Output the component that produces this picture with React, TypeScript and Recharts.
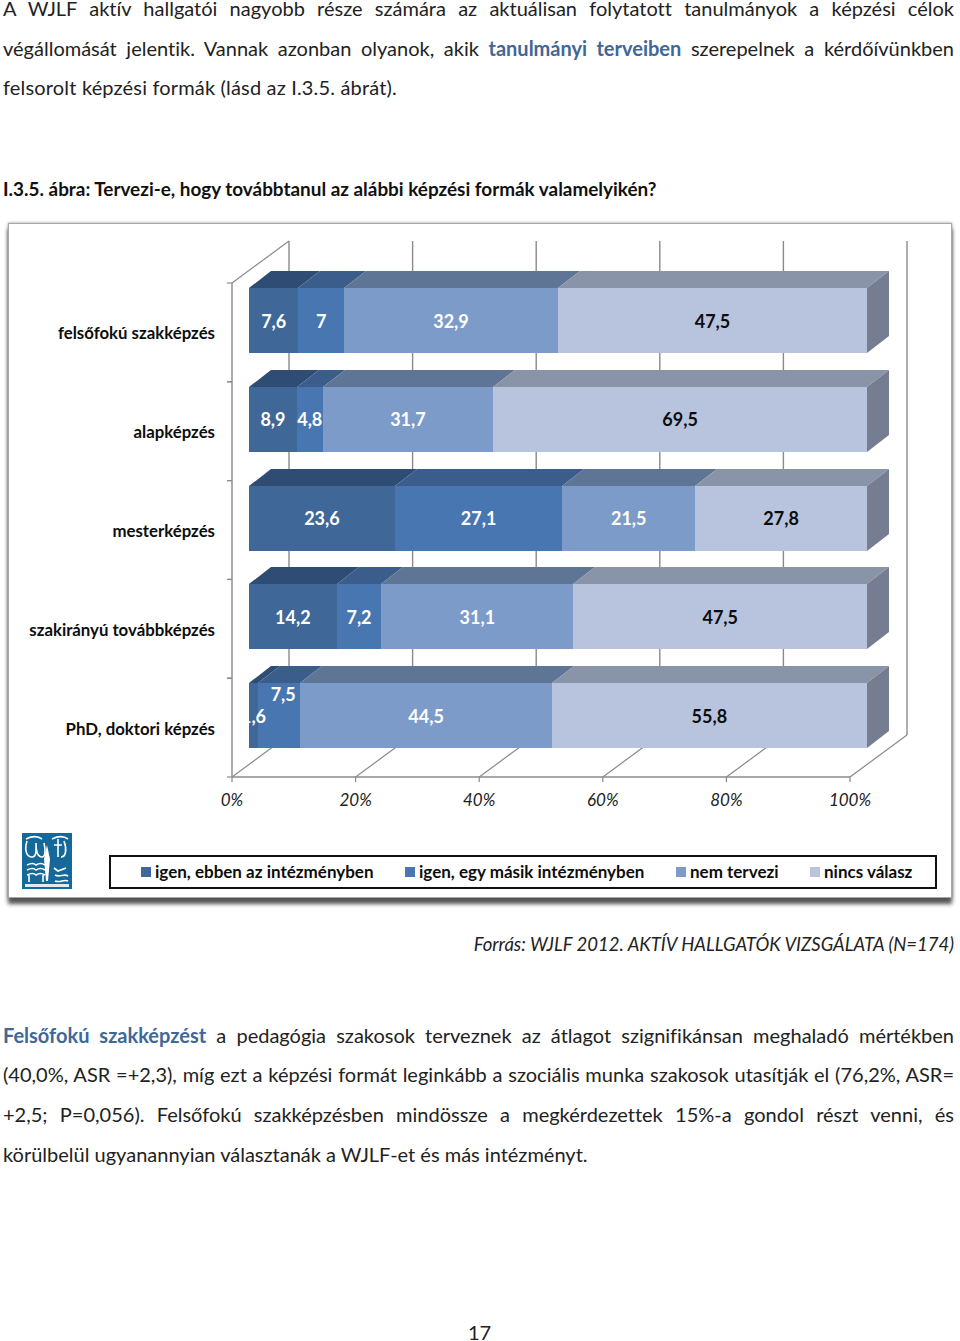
import { BarChart, Bar, XAxis, YAxis, Legend, LabelList, CartesianGrid } from "recharts";

const categories = ["felsőfokú szakképzés", "alapképzés", "mesterképzés", "szakirányú továbbképzés", "PhD, doktori képzés"];
const ebben = [7.6, 8.9, 23.6, 14.2, 1.6];
const masik = [7, 4.8, 27.1, 7.2, 7.5];
const nemTervezi = [32.9, 31.7, 21.5, 31.1, 44.5];
const nincsValasz = [47.5, 69.5, 27.8, 47.5, 55.8];
const xTicks = [0, 0.2, 0.4, 0.6, 0.8, 1];

const data = categories.map((name, i) => ({
  name,
  ebben: ebben[i],
  masik: masik[i],
  nemTervezi: nemTervezi[i],
  nincsValasz: nincsValasz[i],
}));

const FONT = "Lato, Carlito, sans-serif";
const GRID = "#8a8a8a";

// the bars float in front of the wall in the original 3d chart
const BAR_DX = 17;
const BAR_DY = -12;
const DEPTH_X = 22;
const DEPTH_Y = 17;
const WALL_DX = 57;
const WALL_DY = 42;
const BAND = 98.8;

const Bar3D = ({ x, y, width, height, fill, topFill, sideFill }: any) => {
  const l = Math.round(x + BAR_DX);
  const t = Math.round(y + BAR_DY);
  const r = Math.round(x + BAR_DX + width);
  const b = t + height;
  return (
    <g>
      <polygon points={`${l},${t} ${r},${t} ${r + DEPTH_X},${t - DEPTH_Y} ${l + DEPTH_X},${t - DEPTH_Y}`} fill={topFill} />
      {sideFill && (
        <polygon points={`${r},${t} ${r + DEPTH_X},${t - DEPTH_Y} ${r + DEPTH_X},${b - DEPTH_Y} ${r},${b}`} fill={sideFill} />
      )}
      <rect x={l} y={t} width={r - l} height={height} fill={fill} />
    </g>
  );
};

// floor diagonal + back wall line, sits under the bars
const WallLine = ({ x1, y1, y2, index }: any) => (
  <g key={index}>
    <line x1={x1} y1={y2} x2={x1 + WALL_DX} y2={y2 - WALL_DY} stroke={GRID} strokeWidth={1.2} />
    <line x1={x1 + WALL_DX} x2={x1 + WALL_DX} y1={y2 - WALL_DY} y2={y1 - WALL_DY} stroke={GRID} strokeWidth={1.4} />
    {index === 0 && <line x1={x1} y1={y1} x2={x1 + WALL_DX} y2={y1 - WALL_DY} stroke={GRID} strokeWidth={1.2} />}
  </g>
);

const XTick = ({ x, y, payload }: any) => (
  <g>
    <line x1={x} x2={x} y1={y} y2={y + 5} stroke={GRID} strokeWidth={1.2} />
    <text x={x} y={y + 29} textAnchor="middle" fontFamily={FONT} fontStyle="italic" fontSize={17} fill="#222">
      {Math.round(payload.value * 100) + "%"}
    </text>
  </g>
);

const YTick = ({ x, y, payload }: any) => (
  <g>
    <line x1={x - 5} x2={x} y1={y - BAND / 2} y2={y - BAND / 2} stroke={GRID} strokeWidth={1.2} />
    <line x1={x - 5} x2={x} y1={y + BAND / 2} y2={y + BAND / 2} stroke={GRID} strokeWidth={1.2} />
    <text x={x - 17} y={y + 7} textAnchor="end" fontFamily={FONT} fontWeight={700} fontSize={16.8} fill="#0d0d0d">
      {payload.value}
    </text>
  </g>
);

const barLabel = (color: string) => ({ x, y, width, height, value }: any) => {
  // the 7,5 label was dragged upwards by hand in the original
  const lift = value === 7.5 ? -22 : 0;
  const shift = value === 7.5 ? 4 : 0;
  return (
    <text
      x={x + BAR_DX + width / 2 + shift}
      y={y + BAR_DY + height / 2 + 7 + lift}
      textAnchor="middle"
      fontFamily={FONT}
      fontWeight={700}
      fontSize={18}
      fill={color}
    >
      {String(value).replace(".", ",")}
    </text>
  );
};

const LegendBox = ({ payload }: any) => (
  <div style={{ position: "relative", boxSizing: "border-box", width: 828, height: 34, border: "2px solid #111", background: "#fff", fontFamily: FONT, fontWeight: 700, fontSize: 17, color: "#0d0d0d" }}>
    {(payload || []).map((p: any, i: number) => (
      <div key={p.value} style={{ position: "absolute", left: [30, 294, 565, 699][i], top: 0, height: 29, display: "flex", alignItems: "center", whiteSpace: "nowrap" }}>
        <span style={{ display: "inline-block", width: 10, height: 10, background: p.color, marginRight: 4 }} />
        {p.value}
      </div>
    ))}
  </div>
);

const Logo = () => (
  <svg width={50} height={56} viewBox="0 0 50 56" style={{ position: "absolute", left: 22, top: 833 }}>
    <rect width={50} height={56} fill="#15689a" />
    <g fill="none" stroke="#fff" strokeWidth={1.6}>
      <path d="M5 8c-3 10 0 16 5 16s4-8 4-14M14 10c0 8 1 14 6 14 3 0 4-6 2-14" />
      <path d="M4 6c6-3 12-3 16 0M30 6c6-3 12-3 16 0M42 8c3 8 2 16-3 16M36 6v18M32 12h8" />
      <path d="M5 32c4-2 7-2 9 0 3-2 6-2 9 0M5 37c4-2 7-2 9 0 3-2 6-2 9 0M5 42c4-2 7-2 9 0 3-2 6-2 9 0M7 42v7M21 42v7" />
      <path d="M32 35l4 3 8-3M33 42c5 3 9-2 13 1M33 48c5 2 9-2 13 0" />
    </g>
    <path d="M25 12l3 14-2 22-2 0-2-22z" fill="#fff" />
    <rect x={3} y={51} width={44} height={3} fill="#dfeaf2" />
  </svg>
);

const Line = ({ top, children, justify = true, spacing = 0 }: any) => (
  <div style={{ position: "absolute", left: 3, top, width: 951, height: 18, lineHeight: "18px", whiteSpace: "nowrap", letterSpacing: spacing, textAlign: justify ? "justify" : "left", textAlignLast: justify ? "justify" : "left", whiteSpaceCollapse: "preserve" as any }}>
    {children}
  </div>
);

const Hl = ({ children }: any) => <b style={{ color: "#3f6797", fontSize: 20 }}>{children}</b>;

export default function App() {
  return (
    <div style={{ position: "absolute", left: 0, top: 0, width: 960, height: 1341, background: "#fff", fontFamily: FONT, fontSize: 20, color: "#222", overflow: "hidden", fontVariantLigatures: "none" }}>
      <Line top={-1}>A WJLF aktív hallgatói nagyobb része számára az aktuálisan folytatott tanulmányok a képzési célok</Line>
      <Line top={39}>végállomását jelentik. Vannak azonban olyanok, akik <Hl>tanulmányi terveiben</Hl> szerepelnek a kérdőívünkben</Line>
      <Line top={78} justify={false} spacing={0.17}>felsorolt képzési formák (lásd az I.3.5. ábrát).</Line>
      <Line top={179} justify={false}><b style={{ color: "#111", fontSize: 18.9 }}>I.3.5. ábra: Tervezi-e, hogy továbbtanul az alábbi képzési formák valamelyikén?</b></Line>

      <div style={{ position: "absolute", left: 8, top: 223, width: 944, height: 675, boxSizing: "border-box", border: "1px solid #a8a8a8", background: "#fff", boxShadow: "0 6px 4px #555, 0 0 3px #999" }} />
      <div style={{ position: "absolute", left: 8, top: 223 }}>
        <BarChart
          width={944}
          height={675}
          data={data}
          layout="vertical"
          stackOffset="expand"
          barSize={65}
          margin={{ top: 60, right: 102, bottom: 0, left: 24 }}
        >
          <CartesianGrid horizontal={false} vertical={(p: any) => <WallLine {...p} />} />
          <XAxis
            type="number"
            domain={[0, 1]}
            ticks={xTicks}
            tick={<XTick />}
            tickLine={false}
            tickSize={0}
            tickMargin={0}
            axisLine={{ stroke: GRID, strokeWidth: 1.4 }}
            height={87}
            interval={0}
          />
          <YAxis
            type="category"
            dataKey="name"
            width={200}
            tick={<YTick />}
            tickLine={false}
            tickSize={0}
            tickMargin={0}
            axisLine={{ stroke: GRID, strokeWidth: 1.4 }}
            interval={0}
          />
          <Bar dataKey="ebben" name="igen, ebben az intézményben" stackId="a" fill="#3f6797" isAnimationActive={false} shape={(p: any) => <Bar3D {...p} topFill="#2f4d74" />}>
            <LabelList dataKey="ebben" content={barLabel("#fff")} />
          </Bar>
          <Bar dataKey="masik" name="igen, egy másik intézményben" stackId="a" fill="#4876b0" isAnimationActive={false} shape={(p: any) => <Bar3D {...p} topFill="#3a5d8b" />}>
            <LabelList dataKey="masik" content={barLabel("#fff")} />
          </Bar>
          <Bar dataKey="nemTervezi" name="nem tervezi" stackId="a" fill="#7d9bc9" isAnimationActive={false} shape={(p: any) => <Bar3D {...p} topFill="#5f7595" />}>
            <LabelList dataKey="nemTervezi" content={barLabel("#fff")} />
          </Bar>
          <Bar dataKey="nincsValasz" name="nincs válasz" stackId="a" fill="#b8c4de" isAnimationActive={false} shape={(p: any) => <Bar3D {...p} topFill="#8a94a8" sideFill="#767d90" />}>
            <LabelList dataKey="nincsValasz" content={barLabel("#0d0d0d")} />
          </Bar>
          <Legend content={<LegendBox />} wrapperStyle={{ position: "absolute", left: 101, top: 632, width: 828, height: 34 }} />
        </BarChart>
      </div>
      <Logo />

      <div style={{ position: "absolute", right: 6, top: 935, fontStyle: "italic", fontSize: 18.5, lineHeight: "18px", whiteSpace: "nowrap" }}>Forrás: WJLF 2012. AKTÍV HALLGATÓK VIZSGÁLATA (N=174)</div>

      <Line top={1026}><Hl>Felsőfokú szakképzést</Hl> a pedagógia szakosok terveznek az átlagot szignifikánsan meghaladó mértékben</Line>
      <Line top={1065}>(40,0%, ASR =+2,3), míg ezt a képzési formát leginkább a szociális munka szakosok utasítják el (76,2%, ASR=</Line>
      <Line top={1105}>+2,5; P=0,056). Felsőfokú szakképzésben mindössze a megkérdezettek 15%-a gondol részt venni, és</Line>
      <Line top={1145} justify={false}>körülbelül ugyanannyian választanák a WJLF-et és más intézményt.</Line>

      <div style={{ position: "absolute", left: 468, top: 1323, lineHeight: "18px" }}>17</div>
    </div>
  );
}
